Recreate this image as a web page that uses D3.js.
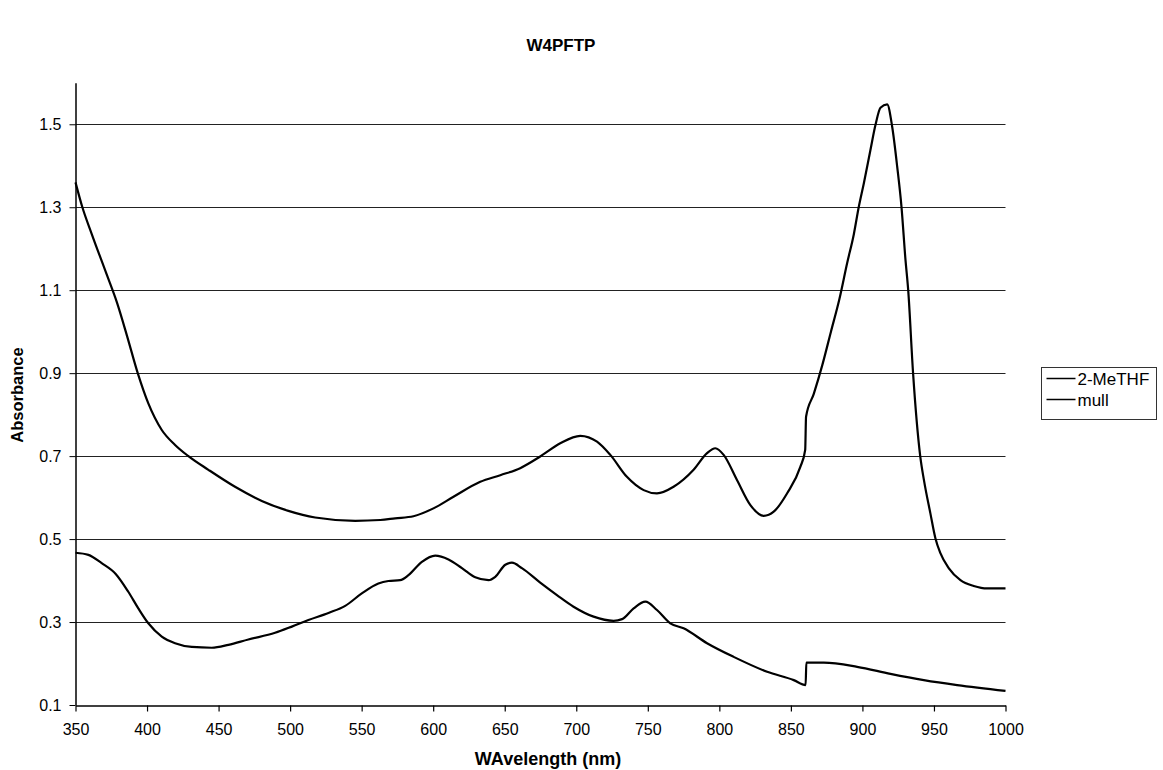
<!DOCTYPE html>
<html>
<head>
<meta charset="utf-8">
<script src="https://cdn.jsdelivr.net/npm/d3@7"></script>
<style>
  html, body { margin: 0; padding: 0; background: #fff; }
  svg { display: block; font-family: "Liberation Sans", Arial, sans-serif; }
</style>
</head>
<body>
<svg id="chart" width="1163" height="770"></svg>
<script>
// Absorption spectra of W4PFTP: solution (2-MeTHF) and solid-state mull.
const seriesNames = ["2-MeTHF", "mull"];

// 2-MeTHF solution spectrum [wavelength nm, absorbance]
const methfWavelength = [350, 354.8, 361.3, 371.8, 379, 386, 393.5, 400.9, 410.3, 419.6, 428.9, 442.9, 461.5, 480.2, 498.8, 517.5, 545.5, 563, 573.4, 586.2, 600.2, 614.2, 632.9, 646.9, 660.8, 674.8, 688.8, 702.8, 714.5, 723.8, 735.4, 747.1, 756.4, 768, 782, 791.4, 797.2, 803, 812.4, 821.7, 831, 838, 847.3, 856.6, 860, 860.6, 866, 872, 878, 884, 889.3, 894, 897.4, 901, 905.6, 909.1, 912.6, 917.3, 920.8, 924.3, 927.3, 930.1, 932, 935.4, 940.4, 943, 947.5, 951, 954.5, 960.3, 968.5, 977.8, 987.2, 1000];
const methfAbsorbance = [1.36, 1.30, 1.236, 1.138, 1.07, 0.99, 0.90, 0.827, 0.763, 0.727, 0.70, 0.667, 0.626, 0.592, 0.568, 0.552, 0.544, 0.546, 0.550, 0.555, 0.574, 0.602, 0.638, 0.654, 0.671, 0.699, 0.731, 0.749, 0.735, 0.703, 0.650, 0.618, 0.610, 0.626, 0.667, 0.707, 0.719, 0.703, 0.642, 0.582, 0.556, 0.566, 0.610, 0.674, 0.715, 0.795, 0.85, 0.92, 1.00, 1.08, 1.165, 1.235, 1.30, 1.358, 1.438, 1.498, 1.540, 1.548, 1.494, 1.398, 1.301, 1.173, 1.10, 0.90, 0.70, 0.642, 0.562, 0.502, 0.466, 0.43, 0.401, 0.387, 0.381, 0.381];

// Mull spectrum [wavelength nm, absorbance]
const mullWavelength = [350, 359, 368.3, 378.1, 386.9, 393.9, 400.9, 410.3, 419.6, 431.3, 445.2, 456.9, 470.8, 489.5, 501.2, 512.8, 526.8, 538.5, 550.1, 561.7, 568.7, 576.9, 582.7, 592.1, 601.4, 610.7, 620.1, 629.4, 638.7, 643.4, 650.4, 655, 662, 674.8, 686.5, 698.1, 712.1, 726.1, 732, 740.1, 748.3, 756.4, 765.7, 775, 791.4, 810, 833.4, 852, 860.3, 860.8, 873, 896.3, 919.6, 942.9, 966.2, 1000];
const mullAbsorbance = [0.467, 0.462, 0.442, 0.416, 0.373, 0.333, 0.297, 0.265, 0.249, 0.240, 0.238, 0.245, 0.258, 0.274, 0.289, 0.305, 0.322, 0.339, 0.369, 0.393, 0.399, 0.401, 0.413, 0.445, 0.460, 0.451, 0.430, 0.408, 0.401, 0.409, 0.438, 0.443, 0.430, 0.395, 0.365, 0.337, 0.313, 0.303, 0.307, 0.333, 0.349, 0.329, 0.297, 0.285, 0.249, 0.216, 0.180, 0.160, 0.148, 0.202, 0.202, 0.192, 0.175, 0.160, 0.148, 0.134];

const xTicks = [350, 400, 450, 500, 550, 600, 650, 700, 750, 800, 850, 900, 950, 1000];
const yTicks = [0.1, 0.3, 0.5, 0.7, 0.9, 1.1, 1.3, 1.5];

const svg = d3.select("#chart");
const margin = { left: 75.5, right: 1005.5, top: 82.8, bottom: 705 };

const x = d3.scaleLinear().domain([350, 1000]).range([margin.left, margin.right]);
const y = d3.scaleLinear().domain([0.1, 1.6]).range([margin.bottom, margin.top]);

// horizontal grid lines
svg.append("g")
  .selectAll("line")
  .data(yTicks.filter(d => d > 0.1))
  .join("line")
  .attr("x1", margin.left).attr("x2", margin.right)
  .attr("y1", d => Math.round(y(d)) + 0.5).attr("y2", d => Math.round(y(d)) + 0.5)
  .attr("stroke", "#222").attr("stroke-width", 1);

// x axis
const xAxis = svg.append("g")
  .attr("transform", `translate(0,${margin.bottom + 0.5})`)
  .call(d3.axisBottom(x).tickValues(xTicks).tickFormat(d3.format("d")).tickSizeInner(6).tickSizeOuter(0).tickPadding(12));
xAxis.select(".domain").attr("stroke", "#000").attr("stroke-width", 1.5);
xAxis.selectAll(".tick line").attr("stroke", "#000").attr("stroke-width", 1.2);
xAxis.selectAll("text").attr("font-size", 16).attr("fill", "#000")
  .attr("font-family", "Liberation Sans, Arial, sans-serif");

// y axis
const yAxis = svg.append("g")
  .attr("transform", `translate(${margin.left},0)`)
  .call(d3.axisLeft(y).tickValues(yTicks).tickFormat(d3.format(".1f")).tickSizeInner(6).tickSizeOuter(0).tickPadding(8));
yAxis.select(".domain").attr("stroke", "#000").attr("stroke-width", 1.5);
yAxis.selectAll(".tick line").attr("stroke", "#000").attr("stroke-width", 1);
yAxis.selectAll("text").attr("font-size", 16).attr("fill", "#000")
  .attr("font-family", "Liberation Sans, Arial, sans-serif");

// spectra
const line = d3.line()
  .x(d => x(d[0]))
  .y(d => y(d[1]))
  .curve(d3.curveMonotoneX);

const methf = d3.zip(methfWavelength, methfAbsorbance);
const mull = d3.zip(mullWavelength, mullAbsorbance);

svg.append("path").datum(methf)
  .attr("d", line).attr("fill", "none")
  .attr("stroke", "#000").attr("stroke-width", 2.2).attr("stroke-linejoin", "round");
svg.append("path").datum(mull)
  .attr("d", line).attr("fill", "none")
  .attr("stroke", "#000").attr("stroke-width", 2.2).attr("stroke-linejoin", "round");

// title
svg.append("text")
  .attr("x", 561).attr("y", 51)
  .attr("text-anchor", "middle")
  .attr("font-size", 17).attr("font-weight", "bold")
  .text("W4PFTP");

// axis titles
svg.append("text")
  .attr("x", 548).attr("y", 765)
  .attr("text-anchor", "middle")
  .attr("font-size", 18).attr("font-weight", "bold")
  .text("WAvelength (nm)");

svg.append("text")
  .attr("transform", "translate(23,395) rotate(-90)")
  .attr("text-anchor", "middle")
  .attr("font-size", 16.5).attr("font-weight", "bold")
  .text("Absorbance");

// legend
const legend = svg.append("g").attr("transform", "translate(1041.5,367.5)");
legend.append("rect")
  .attr("width", 115).attr("height", 52)
  .attr("fill", "#fff").attr("stroke", "#333").attr("stroke-width", 1);
const items = legend.selectAll("g.item")
  .data(seriesNames)
  .join("g")
  .attr("class", "item")
  .attr("transform", (d, i) => `translate(0,${11 + i * 21})`);
items.append("line")
  .attr("x1", 5).attr("x2", 34).attr("y1", 0).attr("y2", 0)
  .attr("stroke", "#000").attr("stroke-width", 1.5);
items.append("text")
  .attr("x", 36).attr("y", 6)
  .attr("font-size", 17)
  .text(d => d);
</script>
</body>
</html>
